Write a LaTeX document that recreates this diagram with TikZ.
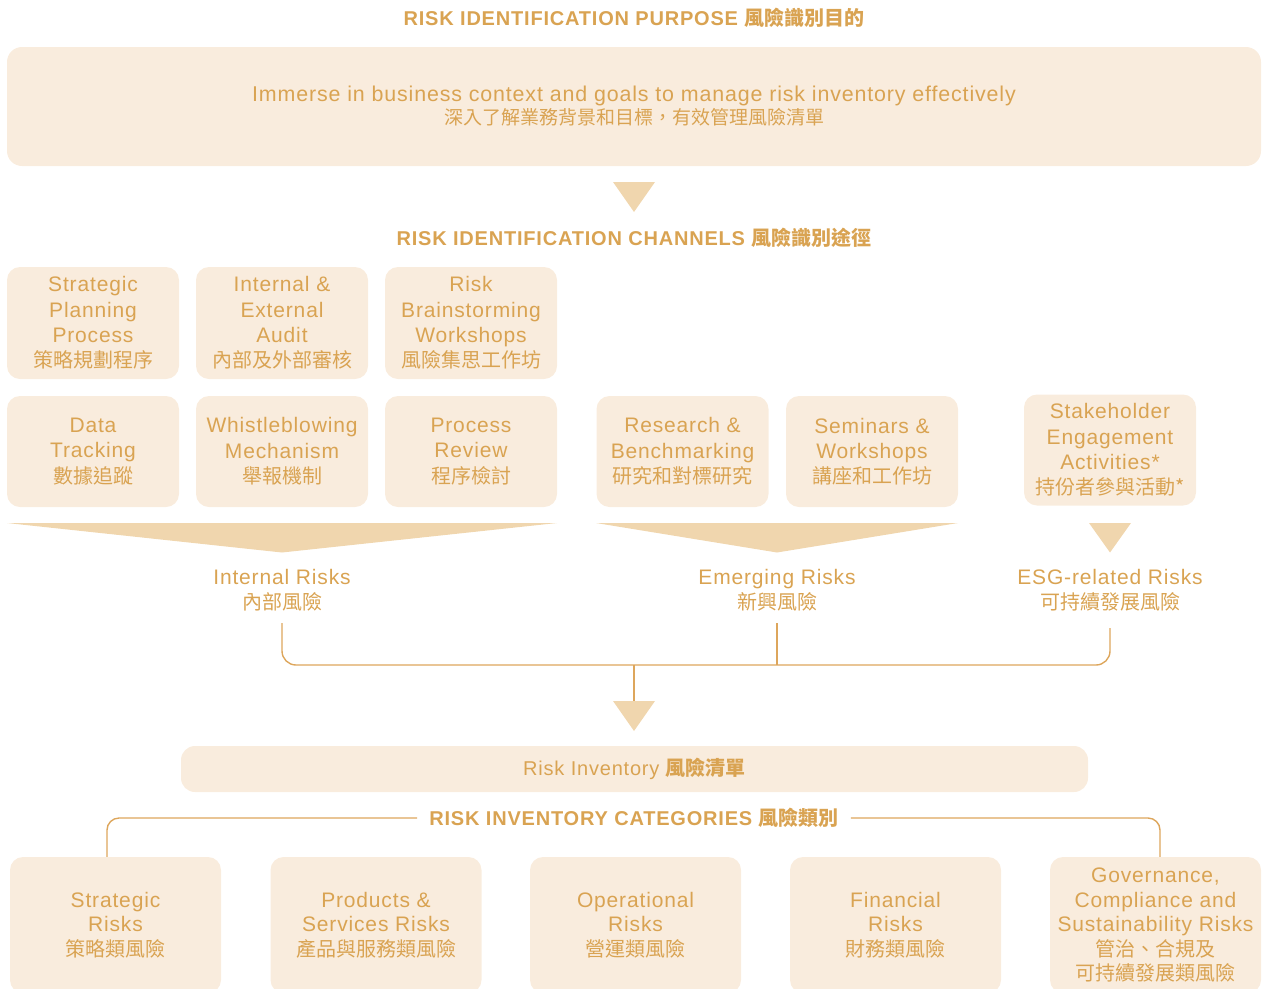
\documentclass[tikz,border=0pt]{standalone}
\usepackage{fontspec}
\setmainfont{Liberation Sans}[LetterSpace=4]
\newfontfamily\cjk{Noto Sans CJK TC}
\definecolor{txt}{RGB}{217,163,82}
\definecolor{boxfill}{RGB}{249,236,221}
\definecolor{trifill}{RGB}{240,214,174}
\definecolor{linec}{RGB}{221,166,92}
\newcommand\zh[1]{{\cjk\fontsize{20}{25}\selectfont #1}}
\newcommand\zhb[1]{{\cjk\bfseries #1}}
\begin{document}
\begin{tikzpicture}[x=1pt,y=-1pt,
  every node/.style={text=txt, font=\fontsize{21}{25.3}\selectfont, align=center, inner sep=0pt},
  titletext/.style={font=\fontsize{20}{24}\selectfont\bfseries},
  chanbox/.style={fill=boxfill, rounded corners=13pt, minimum width=172pt, minimum height=112pt},
  catbox/.style={fill=boxfill, rounded corners=13pt, minimum width=211pt, minimum height=136pt, font=\fontsize{21}{24.5}\selectfont},
  tri/.style={fill=trifill},
  conn/.style={draw=linec, line width=1.4pt}]
\useasboundingbox (0,0) rectangle (1263,988);
\clip (0,0) rectangle (1263,988);

% titles
\node[titletext] (t1) at (634,18) {RISK IDENTIFICATION PURPOSE \zhb{風險識別目的}};
\node[fill=boxfill, rounded corners=15pt, minimum width=1254pt, minimum height=119pt,
      font=\fontsize{21.4}{23}\selectfont] (purpose) at (634,106.5)
  {Immerse in business context and goals to manage risk inventory effectively\\{\cjk\fontsize{19}{23}\selectfont 深入了解業務背景和目標，有效管理風險清單}};
\fill[tri] (613,182) -- (655,182) -- (634,212) -- cycle;
\node[titletext] (t2) at (634,238) {RISK IDENTIFICATION CHANNELS \zhb{風險識別途徑}};

% channels row 1
\node[chanbox] (spp) at (93,323) {Strategic\\Planning\\Process\\\zh{策略規劃程序}};
\node[chanbox] (iea) at (282,323) {Internal \&\\External\\Audit\\\zh{內部及外部審核}};
\node[chanbox] (rbw) at (471,323) {Risk\\Brainstorming\\Workshops\\\zh{風險集思工作坊}};
% channels row 2
\node[chanbox, minimum height=111pt] (dt) at (93,451.5) {Data\\Tracking\\\zh{數據追蹤}};
\node[chanbox, minimum height=111pt] (wb) at (282,451.5) {Whistleblowing\\Mechanism\\\zh{舉報機制}};
\node[chanbox, minimum height=111pt] (pr) at (471,451.5) {Process\\Review\\\zh{程序檢討}};
\node[chanbox, minimum height=111pt] (rb) at (682.5,451.5) {Research \&\\Benchmarking\\\zh{研究和對標研究}};
\node[chanbox, minimum height=111pt] (sw) at (872,451.5) {Seminars \&\\Workshops\\\zh{講座和工作坊}};
\node[chanbox, minimum height=111pt] (se) at (1110,450) {Stakeholder\\Engagement\\Activities*\\\zh{持份者參與活動*}};

% funnels
\fill[tri] (7,523) -- (557,523) -- (282,552.5) -- cycle;
\fill[tri] (596,523) -- (958,523) -- (777,552.5) -- cycle;
\fill[tri] (1089,523) -- (1131,523) -- (1110,552.5) -- cycle;

% risk labels
\node (intR) at (282,590) {Internal Risks\\\zh{內部風險}};
\node (emR) at (777,590) {Emerging Risks\\\zh{新興風險}};
\node (esgR) at (1110,590) {ESG-related Risks\\\zh{可持續發展風險}};

% connectors
\coordinate (iR) at (282,623);
\coordinate (eR) at (777,623);
\coordinate (gR) at (1110,628);
\coordinate (jn) at (634,665);
\coordinate (jd) at (634,701);
\draw[conn, rounded corners=14pt] (iR) |- (jn) -| (gR);
\draw[conn] (eR) -- (eR |- jn);
\draw[conn] (jn) -- (jd);
\fill[tri] (613,701) -- (655,701) -- (634,731) -- cycle;

% inventory
\node[fill=boxfill, rounded corners=14pt, minimum width=907pt, minimum height=46pt,
      font=\fontsize{20}{24}\selectfont] (inv) at (634.5,769) {Risk Inventory \zhb{風險清單}};
\node[titletext, inner xsep=12pt] (t3) at (634,818) {RISK INVENTORY CATEGORIES \zhb{風險類別}};
\coordinate (cl) at (107,858);
\coordinate (cr) at (1160,858);
\draw[conn, rounded corners=12pt] (t3.west) -| (cl);
\draw[conn, rounded corners=12pt] (t3.east) -| (cr);

% categories
\node[catbox] (c1) at (115.5,925) {Strategic\\Risks\\\zh{策略類風險}};
\node[catbox] (c2) at (376,925) {Products \&\\Services Risks\\\zh{產品與服務類風險}};
\node[catbox] (c3) at (635.5,925) {Operational\\Risks\\\zh{營運類風險}};
\node[catbox] (c4) at (895.5,925) {Financial\\Risks\\\zh{財務類風險}};
\node[catbox] (c5) at (1155.5,925) {Governance,\\Compliance and\\Sustainability Risks\\\zh{管治、合規及}\\\zh{可持續發展類風險}};
\end{tikzpicture}
\end{document}
